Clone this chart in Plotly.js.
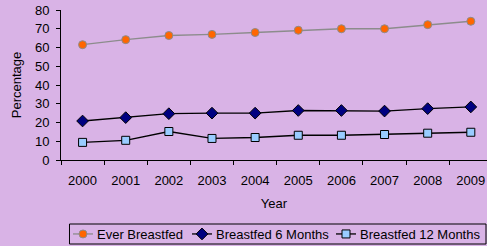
<!DOCTYPE html>
<html>
<head>
<meta charset="utf-8">
<script src="https://cdn.plot.ly/plotly-3.0.1.min.js"></script>
<style>html,body{margin:0;padding:0;background:#D9B3E6;overflow:hidden}</style>
</head>
<body>
<div id="chart" style="width:487px;height:246px"></div>
<script>
const years = ["2000","2001","2002","2003","2004","2005","2006","2007","2008","2009"];
const everBreastfed = [61.5, 64.2, 66.4, 67, 68, 69.2, 70, 70, 72.2, 74];
const breastfed6 = [20.8, 22.6, 24.7, 25, 25, 26.4, 26.4, 26.1, 27.4, 28.3];
const breastfed12 = [9.4, 10.5, 15.2, 11.5, 12, 13.2, 13.2, 13.6, 14.3, 14.8];
const seriesNames = ["Ever Breastfed", "Breastfed 6 Months", "Breastfed 12 Months"];

const font = {family: "Liberation Sans, Arial, sans-serif", size: 13, color: "#000"};
const traces = [
  {x: years, y: everBreastfed, name: seriesNames[0], type: "scatter", mode: "lines+markers", legend: "legend",
   line: {color: "#8C8C8C", width: 1.3},
   marker: {symbol: "circle", size: 8, color: "#FF6600", line: {color: "#8C8C8C", width: 1}}},
  {x: years, y: breastfed6, name: seriesNames[1], type: "scatter", mode: "lines+markers", legend: "legend2",
   line: {color: "#000000", width: 1.3},
   marker: {symbol: "diamond", size: 9, color: "#000080", line: {color: "#000000", width: 1}}},
  {x: years, y: breastfed12, name: seriesNames[2], type: "scatter", mode: "lines+markers", legend: "legend3",
   line: {color: "#000000", width: 1.3},
   marker: {symbol: "square", size: 8, color: "#99CCFF", line: {color: "#000000", width: 1}}}
];
function leg(xpx) {
  return {orientation: "h", x: xpx / 487, xref: "container", xanchor: "left",
    y: (246 - 219) / 246, yref: "container", yanchor: "top",
    bgcolor: "rgba(0,0,0,0)", borderwidth: 0, font: font, itemwidth: 30};
}
const layout = {
  width: 487, height: 246,
  paper_bgcolor: "#D9B3E6", plot_bgcolor: "#D9B3E6",
  font: font,
  margin: {l: 60.5, r: 0, t: 10, b: 86, pad: 0},
  showlegend: true,
  legend: leg(57), legend2: leg(176), legend3: leg(320),
  shapes: [{type: "rect", xref: "paper", yref: "paper",
    x0: (69 - 60.5) / 426.5, x1: (486 - 60.5) / 426.5,
    y0: (160 - 224) / 150, y1: (160 - 244) / 150,
    line: {color: "#000", width: 1}, fillcolor: "rgba(0,0,0,0)", layer: "above"}],
  xaxis: {type: "category", range: [-0.5, 9.375], tickson: "boundaries", automargin: false,
    ticks: "outside", ticklen: 4, tickcolor: "#000", showline: true, linecolor: "#000", linewidth: 1,
    showgrid: false, zeroline: false, tickfont: font, ticklabelstandoff: 8,
    title: {text: "Year", font: font, standoff: 12}},
  yaxis: {range: [0, 80], dtick: 10, ticks: "outside", ticklen: 4, tickcolor: "#000", automargin: false,
    showline: true, linecolor: "#000", linewidth: 1, showgrid: false, zeroline: false, tickfont: font,
    ticklabelstandoff: 4,
    title: {text: "Percentage", font: font, standoff: 10}}
};
Plotly.newPlot("chart", traces, layout, {staticPlot: true, displayModeBar: false}).then(function (gd) {
  // shorten legend sample lines to the reference's compact style
  gd.querySelectorAll(".legendlines path").forEach(function (p) { p.setAttribute("d", "M16,0h20"); });
  gd.querySelectorAll(".legendpoints path.scatterpts").forEach(function (p) { p.setAttribute("transform", "translate(26,0)"); });
});
</script>
</body>
</html>
